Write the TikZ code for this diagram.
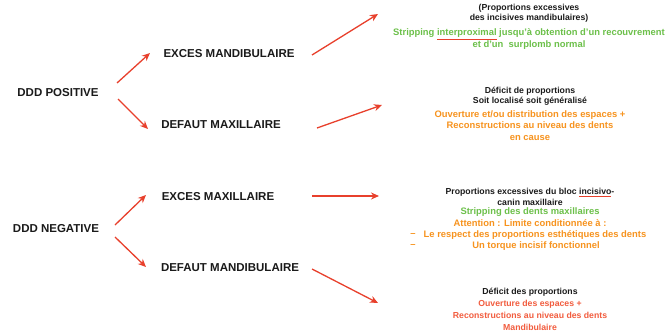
\documentclass[tikz,border=0pt]{standalone}
\usepackage{fontspec}
\setmainfont{Liberation Sans}
\usetikzlibrary{arrows.meta}
\definecolor{arrred}{HTML}{E8402C}
\definecolor{txtgreen}{HTML}{6CC04A}
\definecolor{txtorange}{HTML}{F7931E}
\definecolor{txtred}{HTML}{F25C3E}
\definecolor{txtblack}{HTML}{1A1A1A}
\newcommand{\squig}[1]{{\color{arrred}$\underline{\hbox{#1}}$}}
\begin{document}
\begin{tikzpicture}[x=1pt,y=-1pt,
  main/.style={font=\bfseries\fontsize{11.5}{13}\selectfont, text=txtblack, inner sep=0pt},
  infob/.style={font=\bfseries\fontsize{8.7}{10.3}\selectfont, align=center, inner sep=0pt},
  infoc/.style={font=\bfseries\fontsize{9.4}{11.3}\selectfont, align=center, inner sep=0pt},
  infor/.style={font=\bfseries\fontsize{8.7}{11.7}\selectfont, align=center, inner sep=0pt},
  arr/.style={draw=arrred, line width=1.3pt, -{Stealth[length=8pt,width=7pt]}}]
\fill[white] (0,0) rectangle (668,334);
\useasboundingbox (0,0) rectangle (668,334);

% left column
\node[main] (pos) at (58,93) {DDD POSITIVE};
\node[main] (neg) at (56,229) {DDD NEGATIVE};
\node[main] (emand) at (229,54) {EXCES MANDIBULAIRE};
\node[main] (dmax) at (221,125) {DEFAUT MAXILLAIRE};
\node[main] (emax) at (218,197) {EXCES MAXILLAIRE};
\node[main] (dmand) at (230,268) {DEFAUT MANDIBULAIRE};

% arrow endpoints
\coordinate (p1s) at (117,83);  \coordinate (p1e) at (150,53);
\coordinate (p2s) at (118,99);  \coordinate (p2e) at (148,129);
\coordinate (n1s) at (115,225); \coordinate (n1e) at (146,195);
\coordinate (n2s) at (115,237); \coordinate (n2e) at (146,267);
\coordinate (r1s) at (312,55);  \coordinate (r1e) at (378,14);
\coordinate (r2s) at (317,128); \coordinate (r2e) at (382,105);
\coordinate (r3s) at (312,196); \coordinate (r3e) at (379,196);
\coordinate (r4s) at (312,269); \coordinate (r4e) at (378,303);

\draw[arr] (p1s) -- (p1e);
\draw[arr] (p2s) -- (p2e);
\draw[arr] (n1s) -- (n1e);
\draw[arr] (n2s) -- (n2e);
\draw[arr] (r1s) -- (r1e);
\draw[arr] (r2s) -- (r2e);
\draw[arr] (r3s) -- (r3e);
\draw[arr] (r4s) -- (r4e);

% right column
\node[infob, text=txtblack] (b1a) at (529,13) {(Proportions excessives\\des incisives mandibulaires)};
\node[infoc, text=txtgreen] (b1b) at (529,39) {Stripping \squig{\color{txtgreen}interproximal} jusqu'à obtention d'un recouvrement\\et d'un\ \ surplomb normal};

\node[infob, text=txtblack] (b2a) at (530,96.5) {Déficit de proportions\\Soit localisé soit généralisé};
\node[infoc, text=txtorange] (b2b) at (530,125.5) {Ouverture et/ou distribution des espaces +\\Reconstructions au niveau des dents\\en cause};

\node[infob, text=txtblack] (b3a) at (530,197) {Proportions excessives du bloc \squig{\color{txtblack}incisivo}-\\canin maxillaire};
\node[infoc, text=txtgreen] (b3b) at (530,212) {Stripping des dents maxillaires};
\node[infoc, text=txtorange] (b3c) at (530,223) {Attention : Limite conditionnée à :};
\node[infoc, text=txtorange] (b3d) at (535,235) {Le respect des proportions esthétiques des dents};
\node[infoc, text=txtorange] (b3e) at (536,246) {Un torque incisif fonctionnel};
\node[infoc, text=txtorange] (d1) at (413,235) {–};
\node[infoc, text=txtorange] (d2) at (413,246) {–};

\node[infob, text=txtblack] (b4a) at (530,292) {Déficit des proportions};
\node[infor, text=txtred] (b4b) at (530,315.5) {Ouverture des espaces +\\Reconstructions au niveau des dents\\Mandibulaire};
\end{tikzpicture}
\end{document}
